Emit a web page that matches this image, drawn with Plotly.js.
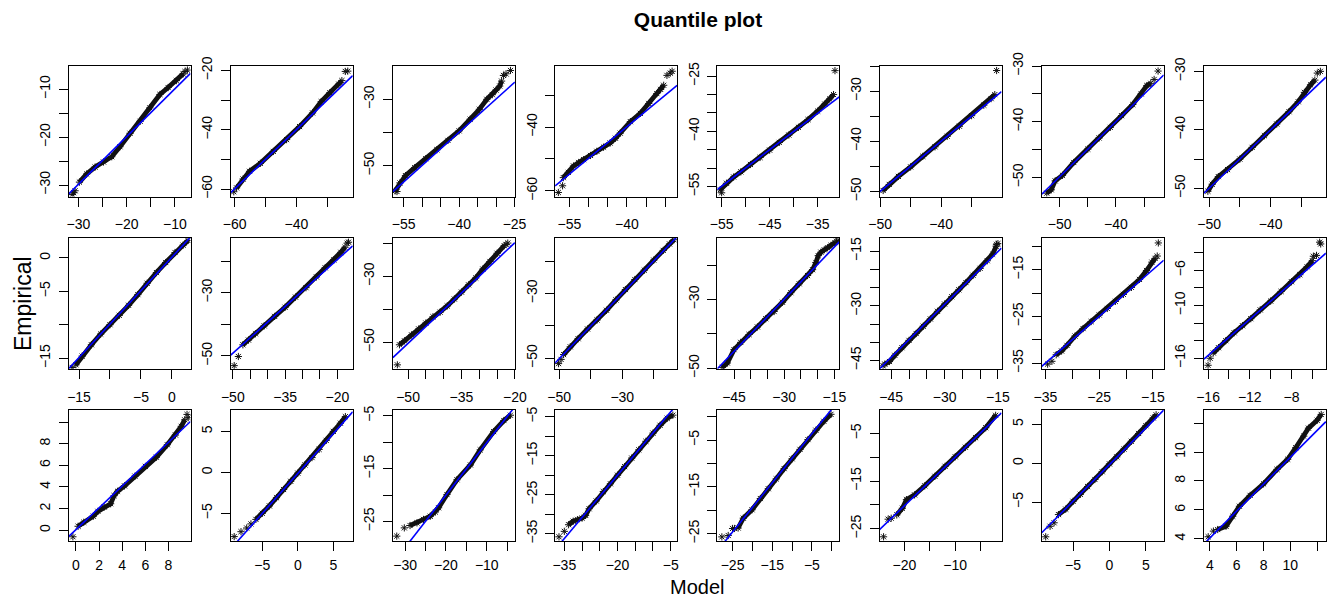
<!DOCTYPE html>
<html>
<head>
<meta charset="utf-8">
<script src="https://cdn.plot.ly/plotly-3.0.1.min.js"></script>
<style>html,body{margin:0;padding:0;background:#fff;}#chart{width:1342px;height:598px;}</style>
</head>
<body>
<div id="chart"></div>
<script>
// ---- Data (24 QQ panels, row by row) ----
const bodyModel = [
 [-29.8,-28.3,-26.55,-24.8,-23.1,-21.4,-19.3,-17.2,-15.2,-13.1,-11.4,-9.7,-8.3],
 [-59.4,-57.3,-55.2,-51.7,-47.5,-43.2,-39.0,-34.8,-32.0,-29.2,-26.3,-25.3],
 [-57.3,-56.0,-54.5,-52.0,-49.0,-46.0,-43.0,-40.0,-37.0,-34.5,-32.5,-31.0,-30.0,-29.0,-28.5],
 [-56.6,-55.3,-53.95,-52.6,-51.3,-49.5,-47.85,-46.1,-44.4,-43.0,-41.75,-39.1,-36.5,-34.3,-32.2,-31.2,-30.4],
 [-55.3,-54.0,-52.5,-51.0,-49.0,-47.0,-45.0,-43.0,-41.0,-39.0,-37.0,-35.0,-33.5,-32.5,-31.7],
 [-49.5,-48.5,-47.0,-45.0,-43.0,-41.0,-39.0,-37.0,-35.0,-33.0,-31.8,-31.2],
 [-52.3,-51.5,-50.8,-49.5,-47.5,-45.0,-43.0,-41.0,-39.0,-37.0,-35.5,-34.5,-33.8],
 [-50.2,-49.5,-48.5,-47.0,-45.0,-43.0,-41.0,-39.0,-37.0,-35.5,-34.5,-33.5,-32.8],
 [-15.5,-14.5,-13.0,-11.5,-10.0,-8.5,-7.0,-5.5,-4.0,-2.5,-1.0,0.5,1.8,2.6],
 [-47.1,-45.5,-43.5,-41.0,-38.0,-35.0,-32.0,-29.0,-26.0,-23.5,-21.0,-19.0,-17.8],
 [-52.4,-51.0,-49.0,-47.0,-45.0,-43.0,-41.0,-39.0,-37.0,-35.0,-33.0,-31.0,-29.0,-27.0,-25.0,-23.0],
 [-48.6,-46.5,-44.0,-41.0,-38.0,-35.0,-32.0,-29.0,-26.0,-23.0,-20.0,-17.0,-15.0,-13.6],
 [-48.5,-47.0,-45.0,-43.0,-40.5,-38.0,-35.5,-33.0,-30.5,-28.0,-25.5,-23.0,-21.5,-20.5,-19.8,-19.0,-18.0,-17.0,-16.0,-14.8],
 [-46.8,-45.5,-44.0,-42.0,-40.0,-38.0,-36.0,-34.0,-32.0,-30.0,-28.0,-26.0,-24.0,-22.0,-20.0,-18.0,-16.5,-15.5],
 [-33.0,-32.0,-31.0,-29.5,-28.0,-26.5,-25.0,-23.5,-22.0,-20.5,-19.0,-17.5,-16.2,-15.2,-14.6],
 [-15.5,-15.0,-14.3,-13.5,-12.7,-11.9,-11.0,-10.0,-9.0,-8.0,-7.2,-6.5,-6.0],
 [0.19,0.68,1.5,1.9,2.44,3.0,3.3,3.6,4.2,5.1,6.0,6.95,7.9,8.6,9.1,9.4],
 [-5.9,-5.0,-4.0,-3.0,-2.0,-1.0,0.0,1.0,2.0,3.0,4.0,5.0,6.0,6.7],
 [-28.8,-27.1,-25.5,-23.85,-22.6,-21.8,-19.75,-17.3,-14.0,-11.6,-8.3,-5.8,-4.2],
 [-33.8,-32.5,-31.3,-30.0,-29.0,-28.0,-26.0,-24.0,-22.0,-20.0,-18.0,-16.0,-14.0,-12.0,-10.0,-8.0,-6.0,-4.4],
 [-23.6,-22.3,-20.1,-18.0,-16.0,-14.0,-12.0,-10.0,-8.0,-6.0,-4.0,-2.0,-0.2],
 [-21.5,-20.4,-19.6,-18.0,-16.0,-14.0,-12.0,-10.0,-8.0,-6.0,-4.0,-2.05],
 [-7.0,-6.0,-5.0,-4.0,-3.0,-2.0,-1.0,0.0,1.0,2.0,3.0,4.0,5.0,6.0,6.4],
 [4.58,5.2,5.7,6.2,7.0,8.0,9.0,9.8,10.4,11.0,11.35,12.0,12.3]
];
const bodyEmpirical = [
 [-29.4,-27.7,-26.25,-25.2,-24.1,-22.0,-19.2,-16.7,-13.9,-11.1,-9.65,-8.2,-6.8],
 [-59.6,-56.6,-54.0,-51.3,-47.3,-43.3,-38.9,-34.3,-30.5,-27.5,-24.6,-23.4],
 [-57.6,-55.2,-53.0,-50.6,-47.9,-45.2,-42.4,-39.5,-36.0,-33.0,-30.0,-28.6,-27.2,-26.0,-24.5],
 [-55.85,-54.2,-52.2,-51.1,-50.2,-48.9,-47.6,-46.3,-45.0,-43.5,-41.9,-38.3,-35.7,-32.6,-29.5,-28.2,-26.9],
 [-55.9,-54.1,-52.4,-51.0,-49.0,-47.1,-45.1,-43.0,-41.0,-38.9,-36.8,-34.5,-32.6,-31.2,-30.0],
 [-49.8,-48.6,-47.0,-45.1,-43.0,-41.1,-39.0,-37.0,-34.9,-32.8,-31.5,-30.7],
 [-52.8,-52.2,-50.6,-49.6,-47.3,-44.9,-42.9,-41.0,-38.9,-36.9,-35.0,-33.5,-33.1],
 [-50.5,-49.3,-48.0,-46.8,-45.0,-43.0,-41.0,-39.0,-36.9,-35.2,-33.6,-32.3,-31.5],
 [-16.0,-14.7,-13.0,-11.4,-10.0,-8.6,-7.1,-5.5,-3.8,-2.2,-0.7,0.8,1.9,2.6],
 [-46.5,-45.0,-43.0,-40.5,-37.5,-34.6,-31.4,-28.4,-25.0,-22.1,-19.6,-17.2,-15.6],
 [-50.8,-49.6,-47.8,-46.0,-44.2,-42.3,-40.9,-39.0,-36.9,-34.8,-32.6,-30.5,-27.8,-25.5,-23.0,-20.7],
 [-48.9,-46.5,-44.0,-41.0,-38.2,-35.2,-32.0,-28.8,-25.7,-22.8,-19.7,-16.7,-14.7,-13.4],
 [-49.8,-48.5,-44.6,-42.5,-40.2,-38.0,-35.6,-33.5,-30.8,-28.0,-25.4,-23.0,-21.3,-19.2,-17.2,-16.2,-15.5,-14.9,-14.2,-13.4],
 [-46.0,-45.3,-43.6,-41.5,-39.5,-37.6,-35.6,-33.6,-31.5,-29.5,-27.5,-25.6,-23.6,-21.6,-19.7,-17.6,-15.8,-13.6],
 [-33.2,-32.4,-31.2,-29.2,-27.6,-26.1,-24.7,-23.3,-21.8,-20.3,-18.8,-17.1,-15.2,-13.4,-12.6],
 [-15.4,-14.8,-14.0,-13.1,-12.3,-11.5,-10.5,-9.5,-8.4,-7.3,-6.5,-5.6,-4.9],
 [0.37,0.74,1.3,1.75,2.15,2.45,3.2,3.6,4.1,5.0,5.9,6.75,7.9,8.8,9.6,10.2],
 [-5.75,-5.0,-4.1,-3.1,-2.1,-1.1,-0.1,0.9,1.8,2.8,3.9,5.0,6.0,6.8],
 [-25.75,-25.25,-24.6,-24.0,-23.2,-22.4,-19.9,-17.1,-14.3,-11.45,-8.0,-5.9,-4.9],
 [-32.7,-31.8,-31.4,-31.0,-30.3,-28.6,-26.6,-24.2,-22.2,-20.0,-17.8,-15.6,-13.5,-11.3,-9.2,-7.2,-5.4,-4.6],
 [-23.8,-21.7,-19.9,-17.5,-15.4,-13.3,-11.1,-9.0,-7.0,-4.9,-2.9,-1.0,0.5],
 [-22.1,-20.7,-18.9,-17.9,-16.0,-14.0,-11.9,-9.9,-7.9,-5.9,-3.8,-1.2],
 [-6.6,-5.9,-4.9,-4.0,-3.0,-2.1,-1.1,-0.1,0.8,1.8,2.8,3.8,4.8,5.8,6.2],
 [4.64,4.87,5.56,6.25,7.0,7.8,8.8,9.5,10.3,11.1,11.65,12.2,12.6]
];
const tailModel = [
 [-31.3,-31.0,-30.7,-7.9,-7.4], [-60.3,-24.2,-23.4], [-56.8,-28.0,-27.3,-26.1], [-57.9,-56.8,-29.55,-28.7,-28.2],
 [-55.0,-31.4], [-30.9], [-33.2,-32.5], [-32.4,-31.9],
 [-16.1], [-49.6,-48.4,-17.2,-16.8], [-53.0,-22.5,-22.0], [-50.2,-49.4],
 [-14.3,-13.9], [-47.3,-15.4,-15.0], [-34.6,-33.8,-14.2,-14.0], [-16.0,-15.8,-5.9,-5.6,-5.3,-5.2],
 [-0.26,9.6,9.7], [-8.96,-8.0,-7.2,-6.6], [-32.05,-30.2], [-36.5,-35.0],
 [-27.7,-26.1,-25.0,-24.5], [-24.1,-23.2,-22.6], [-8.75,-8.15,-7.6], [3.87,4.26]
];
const tailEmpirical = [
 [-32.0,-31.6,-31.2,-6.3,-6.0], [-60.9,-20.3,-20.2], [-57.8,-22.8,-22.3,-21.3], [-60.5,-58.4,-23.8,-23.1,-22.5],
 [-56.7,-23.5], [-25.9], [-32.4,-30.9], [-30.3,-30.0],
 [-16.4], [-53.1,-50.2,-14.3,-14.0], [-56.9,-20.3,-19.9], [-51.7,-50.4],
 [-13.0,-12.9], [-46.5,-13.1,-12.9], [-35.2,-34.6,-12.1,-9.3], [-16.8,-16.0,-4.4,-4.3,-2.8,-3.0],
 [-0.6,10.7,10.4], [-7.85,-7.25,-6.8,-6.3], [-27.76,-26.2], [-35.8,-34.4],
 [-25.7,-25.4,-23.9,-23.9], [-26.7,-23.0,-22.8], [-9.45,-8.1,-7.65], [4.14,4.53]
];
// reference (qqline) intercept and slope per panel
const lineIntercept = [0.04,0.1,0.1,-0.29,-0.35,0,-0.545,0, 0.1,0.3,0.635,0.21,0.5,-0.55,0,0.79, 0.05,-0.14,-0.2,1.69,1.6,0.22,-0.19,0.34];
const lineSlope     = [0.996,1.0,1.0,0.99,0.992,1.0,0.986,1.0, 1.0,0.99,1.02,1.008,1.014,0.968,1.0,1.03, 1.01,0.975,0.99,1.084,1.05,1.02,0.94,0.93];
// axis ranges
const xRange = [
 [-32.07,-6.76],[-61.3,-21.8],[-57.9,-24.9],[-58.75,-26.9],[-55.9,-30.5],[-50.1,-30.1],[-53.2,-31.5],[-50.85,-31.0],
 [-16.7,3.0],[-50.6,-15.6],[-54.25,-20.0],[-51.3,-12.6],[-50.0,-13.5],[-48.3,-14.0],[-35.7,-13.0],[-16.4,-4.7],
 [-0.64,9.9],[-9.45,7.73],[-33.0,-3.1],[-37.6,-3.2],[-28.85,1.9],[-24.9,-0.9],[-9.3,7.44],[3.55,12.65]
];
const yRange = [
 [-32.4,-5.05],[-62.5,-18.3],[-59.3,-19.8],[-61.76,-20.7],[-57.7,-22.1],[-51.0,-24.9],[-53.4,-29.9],[-51.4,-29.0],
 [-16.6,3.0],[-54.1,-12.6],[-58.1,-18.3],[-53.3,-12.8],[-50.2,-12.0],[-47.3,-11.3],[-36.2,-8.2],[-17.2,-2.3],
 [-1.0,11.1],[-8.4,7.6],[-28.7,-3.93],[-36.9,-3.3],[-26.6,1.4],[-27.6,-0.1],[-10.0,6.8],[3.84,12.9]
];
// tick marks and which of them carry a label
const xTicks = [
 [-30,-25,-20,-15,-10],[-60,-50,-40,-30],[-55,-50,-45,-40,-35,-30,-25],[-55,-50,-45,-40,-35,-30],[-55,-50,-45,-40,-35],[-50,-45,-40,-35],[-50,-45,-40,-35],[-50,-45,-40,-35],
 [-15,-10,-5,0],[-50,-45,-40,-35,-30,-25,-20],[-50,-45,-40,-35,-30,-25,-20],[-50,-40,-30,-20],[-45,-40,-35,-30,-25,-20,-15],[-45,-40,-35,-30,-25,-20,-15],[-35,-30,-25,-20,-15],[-16,-14,-12,-10,-8,-6],
 [0,2,4,6,8],[-5,0,5],[-30,-25,-20,-15,-10,-5],[-35,-30,-25,-20,-15,-10,-5],[-25,-20,-15,-10,-5,0],[-20,-15,-10,-5],[-5,0,5],[4,6,8,10,12]
];
const xLabeled = [
 [-30,-20,-10],[-60,-40],[-55,-40,-25],[-55,-40],[-55,-45,-35],[-50,-40],[-50,-40],[-50,-40],
 [-15,-5,0],[-50,-35,-20],[-50,-35,-20],[-50,-30],[-45,-30,-15],[-45,-30,-15],[-35,-25,-15],[-16,-12,-8],
 [0,2,4,6,8],[-5,0,5],[-30,-20,-10],[-35,-20,-5],[-25,-15,-5],[-20,-10],[-5,0,5],[4,6,8,10]
];
const yTicks = [
 [-30,-25,-20,-15,-10],[-60,-50,-40,-30,-20],[-50,-40,-30],[-60,-50,-40,-30],[-55,-50,-45,-40,-35,-30,-25],[-50,-45,-40,-35,-30,-25],[-50,-45,-40,-35,-30],[-50,-45,-40,-35,-30],
 [-15,-10,-5,0],[-50,-40,-30,-20],[-50,-40,-30,-20],[-50,-40,-30,-20],[-50,-40,-30,-20],[-45,-40,-35,-30,-25,-20,-15],[-35,-30,-25,-20,-15,-10],[-16,-14,-12,-10,-8,-6,-4],
 [0,2,4,6,8,10],[-5,0,5],[-25,-20,-15,-10,-5],[-35,-30,-25,-20,-15,-10,-5],[-25,-20,-15,-10,-5,0],[-25,-20,-15,-10,-5],[-5,0,5],[4,6,8,10,12]
];
const yLabeled = [
 [-30,-20,-10],[-60,-40,-20],[-50,-30],[-60,-40],[-55,-40,-25],[-50,-40,-30],[-50,-40,-30],[-50,-40,-30],
 [-15,-5,0],[-50,-30],[-50,-30],[-50,-30],[-50,-30],[-45,-30,-15],[-35,-25,-15],[-16,-10,-6],
 [0,2,4,6,8],[-5,0,5],[-25,-15,-5],[-35,-25,-15,-5],[-25,-15,-5],[-25,-15,-5],[-5,0,5],[4,6,8,10]
];
const chartTitle = 'Quantile plot';
const xTitle = 'Model';
const yTitle = 'Empirical';

// ---- Layout geometry (pixels) ----
const W = 1342, H = 598;
const nCols = 8, nRows = 3;
const colLeft0 = 68.5, colStep = 162.2, panelW = 122;
const rowTop0 = 65.5, rowStep = 172.3, panelH = 131;
const FONT = 'Liberation Sans, Arial, Helvetica, sans-serif';
const fmt = v => String(v).replace('-', '\u2212');

const traces = [];
const layout = {
  width: W, height: H,
  margin: {l: 0, r: 0, t: 0, b: 0},
  paper_bgcolor: '#ffffff', plot_bgcolor: '#ffffff',
  showlegend: false,
  font: {family: FONT, color: '#000', size: 14},
  title: {text: '<b>' + chartTitle + '</b>', font: {family: FONT, size: 21, color: '#000'},
          x: 698 / W, xanchor: 'center', xref: 'paper', y: 1 - 20 / H, yanchor: 'middle', yref: 'container'},
  annotations: [
    {text: yTitle, xref: 'paper', yref: 'paper', x: 23 / W, y: 1 - 304 / H, showarrow: false,
     textangle: -90, font: {family: FONT, size: 23, color: '#000'}, xanchor: 'center', yanchor: 'middle'},
    {text: xTitle, xref: 'paper', yref: 'paper', x: 697 / W, y: 1 - 586.5 / H, showarrow: false,
     font: {family: FONT, size: 20, color: '#000'}, xanchor: 'center', yanchor: 'middle'}
  ]
};

const starMarker = {symbol: 'asterisk-open', size: 6, color: '#111', line: {color: '#111', width: 1}};

for (let i = 0; i < bodyModel.length; i++) {
  const r = Math.floor(i / nCols), c = i % nCols;
  const left = colLeft0 + c * colStep, top = rowTop0 + r * rowStep;
  const xa = i === 0 ? 'xaxis' : 'xaxis' + (i + 1);
  const ya = i === 0 ? 'yaxis' : 'yaxis' + (i + 1);
  const xr = i === 0 ? 'x' : 'x' + (i + 1);
  const yr = i === 0 ? 'y' : 'y' + (i + 1);
  const common = {
    showgrid: false, zeroline: false, showline: true, mirror: true,
    linecolor: '#000', linewidth: 1, ticks: 'outside', ticklen: 9, tickwidth: 1, tickcolor: '#000',
    tickfont: {family: FONT, size: 14, color: '#000'}, tickmode: 'array', fixedrange: true
  };
  layout[xa] = Object.assign({}, common, {
    domain: [left / W, (left + panelW) / W], anchor: yr, range: xRange[i],
    tickvals: xTicks[i], ticktext: xTicks[i].map(v => xLabeled[i].includes(v) ? fmt(v) : ''), tickangle: 0,
    ticklabelstandoff: r === nRows - 1 ? 2 : 6
  });
  layout[ya] = Object.assign({}, common, {
    domain: [1 - (top + panelH) / H, 1 - top / H], anchor: xr, range: yRange[i],
    tickvals: yTicks[i], ticktext: yTicks[i].map(v => yLabeled[i].includes(v) ? fmt(v) : ''), tickangle: -90,
    ticklabelstandoff: 3
  });
  traces.push({
    type: 'scatter', mode: 'lines+markers', x: bodyModel[i], y: bodyEmpirical[i], xaxis: xr, yaxis: yr,
    line: {color: '#111', width: 4.8}, marker: starMarker, hoverinfo: 'skip'
  });
  traces.push({
    type: 'scatter', mode: 'markers', x: tailModel[i], y: tailEmpirical[i], xaxis: xr, yaxis: yr,
    marker: starMarker, hoverinfo: 'skip', cliponaxis: true
  });
  const x0 = xRange[i][0], x1 = xRange[i][1];
  traces.push({
    type: 'scatter', mode: 'lines', x: [x0, x1],
    y: [lineIntercept[i] + lineSlope[i] * x0, lineIntercept[i] + lineSlope[i] * x1],
    xaxis: xr, yaxis: yr, line: {color: '#0000ff', width: 1.6}, hoverinfo: 'skip'
  });
}

Plotly.newPlot('chart', traces, layout, {staticPlot: true, displayModeBar: false});
</script>
</body>
</html>
